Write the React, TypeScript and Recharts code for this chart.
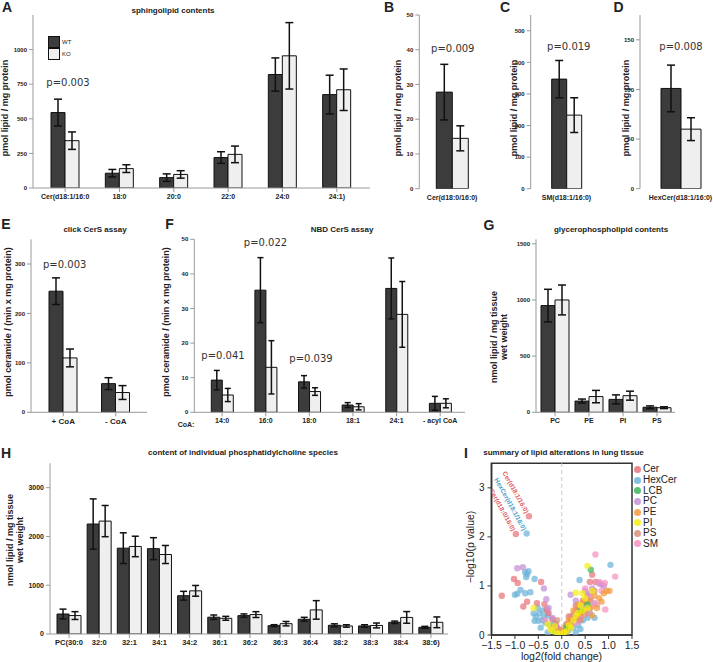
import React from 'react';
import {
  BarChart, Bar, XAxis, YAxis, ErrorBar,
  ScatterChart, Scatter, ReferenceLine, ReferenceArea,
} from 'recharts';

const FONT = '"Liberation Sans", Arial, Helvetica, sans-serif';
const PFONT = '"DejaVu Sans", Verdana, sans-serif';
const WT_FILL = '#3c3c3c';
const KO_FILL = '#efefef';
const AXIS = '#9a9a9a';

// ---------- A: sphingolipid contents ----------
const sphCats = ['Cer(d18:1/16:0', '18:0', '20:0', '22:0', '24:0', '24:1)'];
const sphWT = [545, 107, 75, 220, 820, 675];
const sphWTErr = [97, 27, 27, 42, 120, 140];
const sphKO = [342, 140, 98, 243, 955, 710];
const sphKOErr = [63, 28, 27, 60, 240, 150];
const sphTicks = [0, 250, 500, 750, 1000];

// ---------- B ----------
const cer0Cats = ['Cer(d18:0/16:0)'];
const cer0WT = [27.8];
const cer0WTErr = [8];
const cer0KO = [14.5];
const cer0KOErr = [3.6];
const cer0Ticks = [0, 10, 20, 30, 40, 50];

// ---------- C ----------
const smCats = ['SM(d18:1/16:0)'];
const smWT = [347];
const smWTErr = [59];
const smKO = [233];
const smKOErr = [55];
const smTicks = [0, 100, 200, 300, 400, 500];

// ---------- D ----------
const hexCats = ['HexCer(d18:1/16:0)'];
const hexWT = [101];
const hexWTErr = [23.5];
const hexKO = [60];
const hexKOErr = [11.5];
const hexTicks = [0, 50, 100, 150];

// ---------- E: click CerS assay ----------
const clickCats = ['+ CoA', '- CoA'];
const clickWT = [245, 58];
const clickWTErr = [27, 12];
const clickKO = [110, 40];
const clickKOErr = [18, 14];
const clickTicks = [0, 100, 200, 300];

// ---------- F: NBD CerS assay ----------
const nbdCats = ['14:0', '16:0', '18:0', '18:1', '24:1', '- acyl CoA'];
const nbdWT = [9.3, 35.3, 8.8, 2.1, 35.8, 2.6];
const nbdWTErr = [2.8, 9.4, 1.8, 0.7, 8.8, 2];
const nbdKO = [5, 13, 6, 1.6, 28.3, 2.6];
const nbdKOErr = [1.9, 7.7, 1.1, 0.9, 9.5, 1.3];
const nbdTicks = [0, 10, 20, 30, 40, 50];

// ---------- G: glycerophospholipid contents ----------
const gplCats = ['PC', 'PE', 'PI', 'PS'];
const gplWT = [950, 100, 115, 45];
const gplWTErr = [145, 18, 40, 12];
const gplKO = [1000, 140, 148, 41];
const gplKOErr = [133, 55, 40, 8];
const gplTicks = [0, 500, 1000, 1500];

// ---------- H: PC species ----------
const pcCats = ['PC(30:0', '32:0', '32:1', '34:1', '34:2', '36:1', '36:2', '36:3', '36:4', '38:2', '38:3', '38:4', '38:6)'];
const pcWT = [410, 2255, 1760, 1750, 785, 345, 377, 171, 302, 179, 165, 240, 137];
const pcWTErr = [100, 515, 315, 225, 90, 45, 35, 20, 40, 30, 25, 25, 20];
const pcKO = [378, 2315, 1795, 1630, 885, 322, 398, 212, 494, 165, 175, 340, 240];
const pcKOErr = [80, 320, 210, 185, 110, 40, 60, 45, 190, 25, 50, 120, 110];
const pcTicks = [0, 1000, 2000, 3000];

// ---------- I: volcano ----------
const iXTicks = [-1.5, -1, -0.5, 0, 0.5, 1, 1.5];
const iYTicks = [0, 1, 2, 3];
const cerPts = [[-1.28, 0.8], [-1.02, 1.14], [-0.94, 1.06], [-0.44, 1.08], [-0.82, 0.58], [-0.74, 0.68], [-0.53, 0.65], [-0.37, 0.63], [-0.28, 0.45], [-0.2, 0.32], [-0.12, 0.2], [-0.06, 0.1], [0.04, 0.08], [0.1, 0.22], [0.18, 0.28], [0.26, 0.42], [0.36, 0.52], [0.45, 0.7], [0.55, 0.8], [0.6, 1.08], [0.65, 1.23], [0.72, 1.08], [0.3, 0.6], [0.15, 0.38], [-0.32, 0.52], [-0.18, 0.15], [0.4, 0.38]];
const hexPts = [[-0.78, 1.28], [-0.74, 1.24], [-0.71, 1.3], [-0.76, 1.18], [-0.58, 1.14], [-0.88, 0.92], [-1.0, 0.82], [-0.95, 0.84], [-0.78, 0.85], [-0.67, 0.87], [-0.51, 0.55], [-0.6, 0.44], [-0.48, 0.44], [-0.58, 0.29], [-0.5, 0.29], [-0.42, 0.3], [-0.4, 0.5], [-0.3, 0.4], [-0.35, 0.25], [-0.25, 0.2], [-0.2, 0.1], [-0.12, 0.05], [-0.45, 0.15], [-0.55, 0.38], [-0.38, 0.38], [1.04, 1.43], [0.38, 1.12], [0.55, 0.35], [0.45, 0.3], [0.35, 0.2], [0.25, 0.15], [0.15, 0.1], [0.6, 0.45], [0.3, 0.05], [0.1, 0.02], [-0.05, 0.03], [0.2, 0.28], [0.5, 0.6], [-0.3, 0.05], [-0.15, 0.25], [0.4, 0.12], [0.7, 0.35]];
const lcbPts = [[0.62, 1.33], [0.4, 0.5], [0.1, 0.15], [0.55, 0.62]];
const pcPts = [[-0.95, 1.36], [-0.83, 1.38], [-0.38, 0.95], [-0.33, 0.73], [0.19, 0.82], [0.8, 1.05], [0.85, 1.03], [0.9, 1.0], [0.5, 0.9], [0.6, 0.85], [-0.2, 0.35], [-0.28, 0.55], [0.3, 0.7], [0.7, 0.65], [0.45, 0.55], [0.25, 0.4], [0.1, 0.2], [-0.1, 0.15], [0.65, 0.95], [0.35, 0.3]];
const pePts = [[0.96, 0.9], [1.02, 0.9], [0.9, 0.85], [0.8, 0.75], [0.7, 0.8], [0.55, 0.7], [0.6, 0.55], [0.75, 0.55], [0.85, 0.68], [0.4, 0.45], [0.3, 0.35], [0.2, 0.2], [0.1, 0.1], [0.05, 0.05], [0.15, 0.3], [0.45, 0.65], [0.5, 0.5], [0.65, 0.4], [0.25, 0.5], [0.35, 0.62], [0.02, 0.02], [0.08, 0.18], [-0.05, 0.08]];
const piPts = [[0.55, 1.41], [0.44, 0.85], [0.3, 0.86], [0.65, 0.9], [0.5, 0.75], [-0.6, 0.55], [-0.3, 0.22], [-0.2, 0.08], [-0.15, 0.18], [-0.05, 0.02], [0.05, 0.05], [0.1, 0.08], [0.15, 0.2], [0.2, 0.15], [0.25, 0.3], [0.35, 0.45], [0.4, 0.6], [-0.1, 0.04], [-0.25, 0.12], [0.3, 0.4], [0.55, 0.55], [0.45, 0.5]];
const psPts = [[0.2, 0.38], [0.3, 0.5], [-0.1, 0.3], [0.15, 0.15], [0.4, 0.3], [0.5, 0.42], [-0.05, 0.12], [0.6, 0.7], [0.7, 0.9]];
const smPts = [[0.72, 1.64], [1.14, 1.19], [0.8, 1.08], [0.92, 1.06], [0.93, 0.52], [0.75, 0.62], [0.62, 0.75], [0.85, 0.9], [0.5, 0.95], [0.4, 0.35], [0.3, 0.25], [-0.35, 0.3], [0.55, 0.45], [0.65, 0.58]];
const labelNames = ['Cer(d18:1/16:0)', 'HexCer(d18:1/16:0)', 'Cer(d18:0/16:0)'];
const labelX = [-0.7, -0.75, -0.98];
const labelY = [2.42, 2.07, 2.06];
const labelClass = ['Cer', 'HexCer', 'Cer'];

const classNames = ['Cer', 'HexCer', 'LCB', 'PC', 'PE', 'PI', 'PS', 'SM'];
const classColors: Record<string, string> = {
  Cer: '#e8737a', HexCer: '#6db3d9', LCB: '#3cb65a', PC: '#c58fd6',
  PE: '#f39a3d', PI: '#f4ee10', PS: '#d9907a', SM: '#f590c0',
};
const textColors: Record<string, string> = { Cer: '#e05a63', HexCer: '#4aa0c6' };
const classPts: Record<string, number[][]> = {
  Cer: cerPts, HexCer: hexPts, LCB: lcbPts, PC: pcPts, PE: pePts, PI: piPts, PS: psPts, SM: smPts,
};
const drawOrder = ['HexCer', 'Cer', 'PC', 'SM', 'PS', 'PE', 'LCB', 'PI'];

type Box = { x: number; y: number; w: number; h: number };
type Plot = { l: number; t: number; r: number; b: number };

function BarPanel(props: {
  box: Box; plot: Plot; padL?: number; padR?: number;
  cats: string[]; wt: number[]; wtE: number[]; ko: number[]; koE: number[];
  domain: [number, number]; ticks: number[]; barSize: number;
  xLine?: boolean; xFont?: number; yFont?: number; errW?: number;
}) {
  const { box, plot, padL = 0, padR = 0, cats, wt, wtE, ko, koE, domain, ticks, barSize,
    xLine = true, xFont = 7, yFont = 6, errW = 4 } = props;
  const data = cats.map((c, i) => ({ c, wt: wt[i], wtE: wtE[i], ko: ko[i], koE: koE[i] }));
  const margin = { top: plot.t - box.y, right: box.x + box.w - plot.r, left: 0, bottom: 0 };
  return (
    <div style={{ position: 'absolute', left: box.x, top: box.y }}>
      <BarChart width={box.w} height={box.h} data={data} margin={margin} barGap={0} barSize={barSize}>
        <XAxis
          dataKey="c"
          height={box.y + box.h - plot.b}
          padding={{ left: padL, right: padR }}
          axisLine={xLine ? { stroke: AXIS } : false}
          tickLine={xLine ? { stroke: AXIS } : false}
          tickSize={4}
          tickMargin={2}
          interval={0}
          tick={{ fontSize: xFont, fontWeight: 'bold', fill: '#222', fontFamily: FONT }}
        />
        <YAxis
          width={plot.l - box.x}
          domain={domain}
          ticks={ticks}
          allowDataOverflow
          interval={0}
          axisLine={{ stroke: AXIS }}
          tickLine={{ stroke: AXIS }}
          tickSize={4}
          tickMargin={2}
          tick={{ fontSize: yFont, fontWeight: 'bold', fill: '#222', fontFamily: FONT }}
        />
        <Bar dataKey="wt" fill={WT_FILL} stroke="#111" strokeWidth={1} isAnimationActive={false}>
          <ErrorBar dataKey="wtE" width={errW} stroke="#111" strokeWidth={1.5} direction="y" />
        </Bar>
        <Bar dataKey="ko" fill={KO_FILL} stroke="#111" strokeWidth={1} isAnimationActive={false}>
          <ErrorBar dataKey="koE" width={errW} stroke="#111" strokeWidth={1.5} direction="y" />
        </Bar>
      </BarChart>
    </div>
  );
}

function T(props: {
  x: number; y: number; children: React.ReactNode; size?: number; bold?: boolean;
  rotate?: number; color?: string; family?: string; anchor?: 'start' | 'middle';
}) {
  const { x, y, children, size = 8, bold = false, rotate = 0, color = '#222', family = FONT, anchor = 'middle' } = props;
  const tx = anchor === 'middle' ? '-50%' : '0';
  return (
    <div style={{
      position: 'absolute', left: x, top: y,
      transform: `translate(${tx}, -50%) rotate(${rotate}deg)`,
      fontSize: size, fontWeight: bold ? 'bold' : 'normal', color, fontFamily: family,
      whiteSpace: 'nowrap', lineHeight: 1.15, textAlign: 'center',
    }}>{children}</div>
  );
}

const fmtX = (v: number) => (v < 0 ? '\u2212' : '') + Math.abs(v).toFixed(1);

const dotShape = (color: string) => (p: any) => (
  <circle cx={p.cx} cy={p.cy} r={3.2} fill={color} fillOpacity={0.72} />
);

const LabeledDot = (p: any) => {
  const { cx, cy, payload } = p;
  return (
    <g>
      <circle cx={cx} cy={cy} r={3.2} fill={classColors[payload.cls]} fillOpacity={0.72} />
      <text
        x={cx} y={cy} dx={-4} dy={2.3}
        transform={`rotate(61 ${cx} ${cy})`}
        textAnchor="end" fontSize={6.5} fontWeight="bold"
        fill={textColors[payload.cls]} fontFamily={FONT}
      >{payload.name}</text>
    </g>
  );
};

function Volcano() {
  const box = { x: 455, y: 440, w: 258, h: 222 };
  const plot = { l: 491.5, t: 463.3, r: 632, b: 635 };
  const labeled = labelNames.map((n, i) => ({ x: labelX[i], y: labelY[i], name: n, cls: labelClass[i] }));
  return (
    <div style={{ position: 'absolute', left: box.x, top: box.y }}>
      <ScatterChart
        width={box.w} height={box.h}
        margin={{ top: plot.t - box.y, right: box.x + box.w - plot.r, left: 0, bottom: 0 }}
      >
        <XAxis
          type="number" dataKey="x" domain={[-1.5, 1.5]} ticks={iXTicks} interval={0}
          allowDataOverflow tickFormatter={fmtX} height={box.y + box.h - plot.b}
          axisLine={{ stroke: '#333', strokeWidth: 1.5 }} tickLine={{ stroke: '#333' }}
          tickSize={4} tickMargin={3}
          tick={{ fontSize: 10.5, fill: '#222', fontFamily: FONT }}
        />
        <YAxis
          type="number" dataKey="y" domain={[0, 3.5]} ticks={iYTicks} interval={0}
          allowDataOverflow width={plot.l - box.x}
          axisLine={{ stroke: '#333', strokeWidth: 1.5 }} tickLine={{ stroke: '#333' }}
          tickSize={4} tickMargin={3}
          tick={{ fontSize: 10, fill: '#222', fontFamily: FONT }}
        />
        <ReferenceArea x1={-1.5} x2={1.5} y1={0} y2={3.5} fill="none" fillOpacity={0} stroke="#333" strokeWidth={1.5} />
        <ReferenceLine x={0} stroke="#c8c8c8" strokeDasharray="4 3" />
        {drawOrder.map((k) => (
          <Scatter
            key={k} name={k}
            data={classPts[k].map(([x, y]) => ({ x, y }))}
            fill={classColors[k]}
            shape={dotShape(classColors[k])}
            isAnimationActive={false}
          />
        ))}
        <Scatter data={labeled} shape={LabeledDot} isAnimationActive={false} />
      </ScatterChart>
    </div>
  );
}

export default function App() {
  const legendRows = [469.3, 480, 490.7, 501.3, 512, 522.5, 533, 543.5];
  return (
    <div style={{ position: 'absolute', left: 0, top: 0, width: 713, height: 662, background: '#fff', overflow: 'hidden', fontFamily: FONT }}>
      {/* A */}
      <BarPanel box={{ x: 0, y: 0, w: 375, h: 210 }} plot={{ l: 33, t: 15, r: 370, b: 188 }} padL={5} padR={6}
        cats={sphCats} wt={sphWT} wtE={sphWTErr} ko={sphKO} koE={sphKOErr}
        domain={[0, 1250]} ticks={sphTicks} barSize={14} />
      {/* B */}
      <BarPanel box={{ x: 380, y: 0, w: 110, h: 210 }} plot={{ l: 419.3, t: 15, r: 485, b: 188.7 }}
        cats={cer0Cats} wt={cer0WT} wtE={cer0WTErr} ko={cer0KO} koE={cer0KOErr}
        domain={[0, 50]} ticks={cer0Ticks} barSize={16} xLine={false} />
      {/* C */}
      <BarPanel box={{ x: 495, y: 0, w: 110, h: 210 }} plot={{ l: 530.7, t: 15, r: 602.3, b: 188.7 }}
        cats={smCats} wt={smWT} wtE={smWTErr} ko={smKO} koE={smKOErr}
        domain={[0, 550]} ticks={smTicks} barSize={15} xLine={false} />
      {/* D */}
      <BarPanel box={{ x: 605, y: 0, w: 108, h: 210 }} plot={{ l: 640, t: 15, r: 713, b: 188.7 }} padL={8}
        cats={hexCats} wt={hexWT} wtE={hexWTErr} ko={hexKO} koE={hexKOErr}
        domain={[0, 175]} ticks={hexTicks} barSize={20} xLine={false} />
      {/* E */}
      <BarPanel box={{ x: 0, y: 215, w: 160, h: 210 }} plot={{ l: 31, t: 239.3, r: 147, b: 412.3 }} padL={6} padR={5}
        cats={clickCats} wt={clickWT} wtE={clickWTErr} ko={clickKO} koE={clickKOErr}
        domain={[0, 350]} ticks={clickTicks} barSize={14} xFont={8} />
      {/* F */}
      <BarPanel box={{ x: 165, y: 215, w: 305, h: 210 }} plot={{ l: 194.3, t: 239.3, r: 465, b: 412.3 }} padL={6} padR={3}
        cats={nbdCats} wt={nbdWT} wtE={nbdWTErr} ko={nbdKO} koE={nbdKOErr}
        domain={[0, 50]} ticks={nbdTicks} barSize={11} errW={3} />
      {/* G */}
      <BarPanel box={{ x: 475, y: 215, w: 238, h: 210 }} plot={{ l: 536, t: 239.3, r: 675, b: 412.3 }} padL={2} padR={1}
        cats={gplCats} wt={gplWT} wtE={gplWTErr} ko={gplKO} koE={gplKOErr}
        domain={[0, 1540]} ticks={gplTicks} barSize={14} />
      {/* H */}
      <BarPanel box={{ x: 0, y: 440, w: 455, h: 222 }} plot={{ l: 50, t: 463.3, r: 448, b: 634 }} padL={4} padR={2}
        cats={pcCats} wt={pcWT} wtE={pcWTErr} ko={pcKO} koE={pcKOErr}
        domain={[0, 3500]} ticks={pcTicks} barSize={12} xFont={7.5} yFont={7} errW={3.5} />
      {/* I */}
      <Volcano />

      {/* Panel letters */}
      <T x={7} y={7} size={14} bold>A</T>
      <T x={389} y={7} size={14} bold>B</T>
      <T x={505} y={7} size={14} bold>C</T>
      <T x={618.5} y={7} size={14} bold>D</T>
      <T x={6} y={224} size={14} bold>E</T>
      <T x={169.5} y={224} size={14} bold>F</T>
      <T x={489} y={225} size={14} bold>G</T>
      <T x={6} y={453} size={14} bold>H</T>
      <T x={466} y={453} size={14} bold>I</T>

      {/* Titles */}
      <T x={173} y={11} size={8} bold>sphingolipid contents</T>
      <T x={95} y={230} size={8} bold>click CerS assay</T>
      <T x={342} y={230} size={8} bold>NBD CerS assay</T>
      <T x={611} y={230} size={8} bold>glycerophospholipid contents</T>
      <T x={243} y={452.7} size={8} bold>content of individual phosphatidylcholine species</T>
      <T x={563.5} y={452.7} size={8} bold>summary of lipid alterations in lung tissue</T>

      {/* Y labels */}
      <T x={5} y={108} size={9} bold rotate={-90}>pmol lipid / mg protein</T>
      <T x={397.5} y={108} size={9} bold rotate={-90}>pmol lipid / mg protein</T>
      <T x={514} y={108} size={9} bold rotate={-90}>pmol lipid / mg protein</T>
      <T x={626} y={108} size={9} bold rotate={-90}>pmol lipid / mg protein</T>
      <T x={8} y={322} size={9} bold rotate={-90}>pmol ceramide / (min x mg protein)</T>
      <T x={165.5} y={322} size={9} bold rotate={-90}>pmol ceramide / (min x mg protein)</T>
      <T x={499} y={337} size={9} bold rotate={-90}>nmol lipid / mg tissue<br />wet weight</T>
      <T x={15} y={540} size={9} bold rotate={-90}>nmol lipid / mg tissue<br />wet weight</T>
      <T x={470} y={547} size={10.5} rotate={-90}>{'\u2212log10(p value)'}</T>
      <T x={561.5} y={656} size={10.5}>log2(fold change)</T>

      {/* CoA: label */}
      <T x={186} y={425} size={7} bold>CoA:</T>

      {/* p-values */}
      <T x={68} y={83} size={10} family={PFONT} color="#333">p=0.003</T>
      <T x={452.8} y={49.3} size={10} family={PFONT} color="#333">p=0.009</T>
      <T x={568.8} y={46.7} size={10} family={PFONT} color="#333">p=0.019</T>
      <T x={681} y={46.7} size={10} family={PFONT} color="#333">p=0.008</T>
      <T x={64.7} y={265} size={10} family={PFONT} color="#333">p=0.003</T>
      <T x={223} y={355.7} size={10} family={PFONT} color="#333">p=0.041</T>
      <T x={265.5} y={243.3} size={10} family={PFONT} color="#333">p=0.022</T>
      <T x={311} y={359.3} size={10} family={PFONT} color="#333">p=0.039</T>

      {/* A legend */}
      <div style={{ position: 'absolute', left: 48, top: 36, width: 10, height: 10, background: WT_FILL, border: '1.5px solid #111' }} />
      <div style={{ position: 'absolute', left: 48, top: 48, width: 10, height: 10, background: KO_FILL, border: '1.5px solid #111' }} />
      <T x={62} y={42} size={6} anchor="start">WT</T>
      <T x={62} y={53.5} size={6} anchor="start">KO</T>

      {/* I legend */}
      {classNames.map((k, i) => (
        <React.Fragment key={k}>
          <div style={{
            position: 'absolute', left: 637.3 - 3.5, top: legendRows[i] - 3.5, width: 7, height: 7,
            borderRadius: '50%', background: classColors[k], opacity: 0.85,
          }} />
          <T x={643} y={legendRows[i]} size={10} anchor="start">{k}</T>
        </React.Fragment>
      ))}
    </div>
  );
}
